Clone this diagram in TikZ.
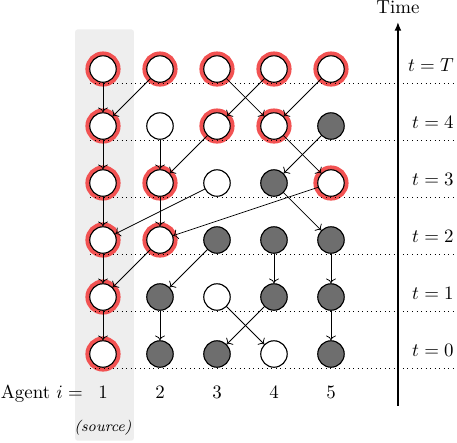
\documentclass[tikz,border=0pt]{standalone}
\usepackage{amsmath}
\usepackage{tikz}
\usetikzlibrary{arrows.meta}
\usetikzlibrary{backgrounds}
\definecolor{srcred}{RGB}{242,82,82}
\definecolor{vgray}{RGB}{110,110,110}
\definecolor{boxgray}{RGB}{238,238,238}
\tikzset{basic vertex/.style={draw,circle,line width=0.6pt,minimum size=14pt,inner sep=0pt}}
\tikzset{vertex w/.style={basic vertex,fill=white}}
\tikzset{vertex g/.style={basic vertex,fill=vgray}}
\tikzset{vertex r/.style={vertex w,preaction={draw=srcred,line width=4.6pt}}}
\tikzset{edge/.style={draw,->,thin}}

\begin{document}
\begin{tikzpicture}
      [
      x=1.06cm,y=1.06cm,
      level line/.style={dotted,thin},
      ]
      \useasboundingbox (-1.807,-1.544) rectangle (6.211,6.211);

      % source column
      \fill [boxgray,rounded corners=1.5pt] (-0.491,-1.521) rectangle (0.544,5.696);

      % vertices, one row per time step
      \foreach \t/\l/\sa/\sb/\sc/\sd/\se in
      {
      5/T/r/r/r/r/r,
      4/4/r/w/r/r/g,
      3/3/r/r/w/g/r,
      2/2/r/r/g/g/g,
      1/1/r/g/w/g/g,
      0/0/r/g/g/w/g%
      }
      {
      \foreach \s [count=\i] in {\sa,\sb,\sc,\sd,\se}
      {
      \node [vertex \s] (V\i-\l) at (\i-1,\t) {};
      }
      \draw [level line] (-0.228,\t-0.246) -- (6.25,\t-0.246);
      \node [anchor=base east,inner sep=0pt] (L\l) at (6.16,\t-0.044) {$t=\l$};
      }

      % edges
      \foreach \a/\b in
      {
      1-T/1-4, 2-T/1-4, 3-T/4-4, 4-T/3-4, 5-T/4-4,
      1-4/1-3, 2-4/2-3, 3-4/2-3, 4-4/5-3, 5-4/4-3,
      1-3/1-2, 2-3/2-2, 3-3/1-2, 5-3/2-2, 4-3/5-2,
      1-2/1-1, 2-2/1-1, 3-2/2-1, 4-2/4-1, 5-2/5-1,
      1-1/1-0, 2-1/2-0, 3-1/4-0, 4-1/3-0, 5-1/5-0%
      }
      {
      \path [edge] (V\a) -- (V\b);
      }

      % time axis
      \coordinate (time start) at (5.175,-0.912);
      \coordinate (time end) at (5.175,5.825);
      \draw [line width=0.8pt,-{Latex[length=4.5pt,width=3.6pt]}] (time start) -- (time end);
      \node (time) at (5.175,6.09) {Time};

      % agent labels
      \node [anchor=base east,inner sep=0pt] (agent) at (-0.346,-0.777) {Agent $i=$};
      \foreach \i in {1,...,5}
      {
      \node [anchor=base,inner sep=0pt] (A\i) at (\i-1,-0.777) {$\i$};
      }
      \node (source) at (0,-1.289) {\footnotesize\textit{(source)}};

    \end{tikzpicture}
\end{document}
